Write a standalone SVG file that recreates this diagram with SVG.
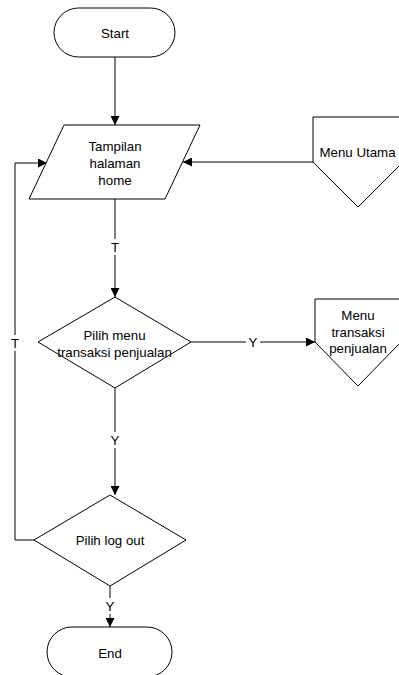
<svg xmlns="http://www.w3.org/2000/svg" width="399" height="675" viewBox="0 0 399 675">
  <defs>
    <marker id="arrow" viewBox="0 0 10 10" refX="10" refY="5" markerWidth="9" markerHeight="9" markerUnits="userSpaceOnUse" orient="auto">
      <path d="M0,0 L10,5 L0,10 Z" fill="#000"/>
    </marker>
  </defs>
  <style>
    .shape { fill: #fff; stroke: #000; stroke-width: 1; }
    .line { fill: none; stroke: #000; stroke-width: 1; }
    text { font-family: "Liberation Sans", Arial, sans-serif; font-size: 13.3px; fill: #000; text-anchor: middle; dominant-baseline: central; }
    .lbl { fill: #fff; stroke: none; }
  </style>
  <rect width="399" height="675" fill="#fff"/>

  <g id="connectors">
    <!-- Start to home -->
    <line class="line" x1="115" y1="57" x2="115" y2="125" marker-end="url(#arrow)"/>
    <!-- Menu Utama back to home -->
    <line class="line" x1="313" y1="162" x2="183" y2="162" marker-end="url(#arrow)"/>
    <!-- home to menu choice -->
    <line class="line" x1="115" y1="199" x2="115" y2="297" marker-end="url(#arrow)"/>
    <rect class="lbl" x="109" y="239" width="12" height="16"/>
    <text x="115" y="247">T</text>
    <!-- menu choice Y to transaksi -->
    <line class="line" x1="191" y1="342" x2="315" y2="342" marker-end="url(#arrow)"/>
    <rect class="lbl" x="246" y="334" width="14" height="16"/>
    <text x="253" y="342">Y</text>
    <!-- menu choice down to log out -->
    <line class="line" x1="115" y1="388" x2="115" y2="495" marker-end="url(#arrow)"/>
    <rect class="lbl" x="108" y="432" width="14" height="16"/>
    <text x="115" y="440">Y</text>
    <!-- log out T loop back -->
    <polyline class="line" points="34,540 15,540 15,163 47,163" marker-end="url(#arrow)"/>
    <rect class="lbl" x="9" y="335" width="12" height="16"/>
    <text x="15" y="343">T</text>
    <!-- log out Y to End -->
    <line class="line" x1="110" y1="586" x2="110" y2="627" marker-end="url(#arrow)"/>
    <rect class="lbl" x="103" y="598" width="14" height="16"/>
    <text x="110" y="606">Y</text>
  </g>

  <g id="start">
    <rect class="shape" x="54" y="8" width="121" height="49" rx="24.5" ry="24.5"/>
    <text x="115" y="33">Start</text>
  </g>

  <g id="home">
    <polygon class="shape" points="64,125 200,125 165,199 29,199"/>
    <text x="115" y="146">Tampilan</text>
    <text x="115" y="163">halaman</text>
    <text x="115" y="180">home</text>
  </g>

  <g id="menu-utama">
    <polygon class="shape" points="313,117 403,117 403,162 358,207 313,162"/>
    <text x="357.5" y="152">Menu Utama</text>
  </g>

  <g id="pilih-menu">
    <polygon class="shape" points="115,297 191,342 115,388 38,342"/>
    <text x="114.5" y="335">Pilih menu</text>
    <text x="114.5" y="352">transaksi penjualan</text>
  </g>

  <g id="menu-transaksi">
    <polygon class="shape" points="315,299 401,299 401,342 358,386 315,342"/>
    <text x="358" y="315">Menu</text>
    <text x="358" y="332">transaksi</text>
    <text x="358" y="348">penjualan</text>
  </g>

  <g id="pilih-logout">
    <polygon class="shape" points="110,495 186,540 110,586 34,540"/>
    <text x="110" y="540">Pilih log out</text>
  </g>

  <g id="end">
    <rect class="shape" x="47" y="627" width="125" height="50" rx="25" ry="25"/>
    <text x="110" y="653">End</text>
  </g>
</svg>
